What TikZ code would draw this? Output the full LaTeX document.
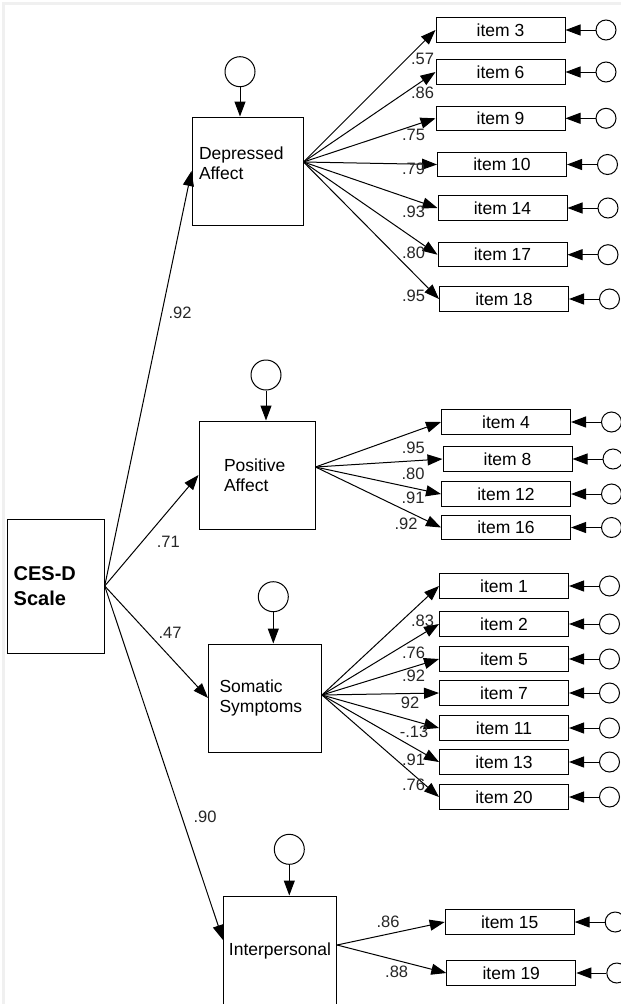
\documentclass[tikz,border=0pt]{standalone}
\usepackage{fontspec}
\setmainfont{Liberation Sans}
\usetikzlibrary{positioning,shapes,arrows.meta}

\begin{document}
\begin{tikzpicture}[x=1pt, y=-1pt, line width=1pt,
    factor/.style={draw, rectangle, minimum width=113pt, minimum height=108pt, inner sep=3pt,
        align=left, font=\fontsize{17.5}{20}\selectfont},
    item/.style={draw, rectangle, minimum width=129pt, minimum height=24.5pt, inner sep=0pt,
        font=\fontsize{17.5}{19}\selectfont},
    err/.style={draw, circle, minimum size=20pt, inner sep=0pt},
    dist/.style={draw, circle, minimum size=30pt, inner sep=0pt},
    load/.style={inner sep=0pt, text=black!85, font=\fontsize{16.5}{18}\selectfont},
    arr/.style={-{Triangle[length=15pt,width=11pt]}}]
    \useasboundingbox (0,0) rectangle (621,1004);
    \clip (0,0) rectangle (621,1004);
    % frame shadow
    \draw[gray!12, line width=3pt] (3,1004) -- (3,3) -- (621,3);

    % second order factor and first order factors
    \node[factor, minimum width=97pt, minimum height=134pt, font=\bfseries\fontsize{20}{25}\selectfont,
        text width=84pt] (ces) at (55.7,586) {CES-D\\Scale};
    \node[factor, minimum width=111pt, text width=97pt] (dep) at (247.5,171) {Depressed\\Affect\\[-4pt]\mbox{}};
    \node[factor, minimum width=116pt, text width=66pt] (pos) at (257,475) {Positive\\Affect};
    \node[factor, text width=91pt] (som) at (265,698) {Somatic\\Symptoms};
    \node[factor, minimum height=110pt, align=center, inner sep=1pt] (int) at (280,951) {Interpersonal};

    % disturbances
    \node[dist] (ddep) at (240,71.7) {};
    \node[dist] (dpos) at (266,375) {};
    \node[dist] (dsom) at (273.3,596.7) {};
    \node[dist] (dint) at (289.3,849.3) {};
    \foreach \f in {dep,pos,som,int}
        \draw[arr] (d\f) -- (d\f |- \f.north);

    \draw[arr] (ces.east) -- (dep.west);
    \draw[arr] (ces.east) -- (pos.west);
    \draw[arr] (ces.east) -- (som.west);
    \draw[arr] (ces.east) -- ([yshift=11pt]int.west);
    \node[load] (l1) at (180,313.3) {.92};
    \node[load] (l2) at (168.3,541.7) {.71};
    \node[load] (l3) at (170,633.3) {.47};
    \node[load] (l4) at (205,817.3) {.90};

    % items with their error terms
    \foreach \n/\x/\y in {3/500.5/30, 6/500.5/72, 9/500.5/118.3, 10/502/164.5, 14/502.5/208,
        17/502.5/254.7, 18/504/299,
        4/506/422, 8/507.5/459, 12/506/494, 16/506/527.5,
        1/504/586, 2/504/624, 5/504/659, 7/504/693, 11/504/728, 13/504/762, 20/504/797,
        15/509.7/922, 19/511.3/973} {
        \node[item] (i\n) at (\x,\y) {item \n};
        \node[err, right=30pt of i\n] (e\n) {};
        \draw[arr] (e\n) -- (i\n);
    }

    % loadings
    \foreach \n in {3,6,9,10,14,17,18}
        \draw[arr] ([yshift=9pt]dep.east) -- (i\n.west);
    \foreach \n in {4,8,12,16}
        \draw[arr] ([yshift=8pt]pos.east) -- (i\n.west);
    \foreach \n in {1,2,5,7,11,13,20}
        \draw[arr] ([yshift=3pt]som.east) -- (i\n.west);
    \foreach \n in {15,19}
        \draw[arr] ([yshift=6pt]int.east) -- (i\n.west);

    \foreach \t/\x/\y [count=\k] in {.57/422.5/59.2, .86/422.5/93.3, .75/413.5/135, .79/413.5/169,
        .93/413.5/211.7, .80/413.5/253.3, .95/413.5/295.5,
        .95/413.3/448.3, .80/413/474, .91/413/498.3, .92/406/524,
        .83/422.5/621, .76/413.5/653.3, .92/413.5/676, 92/410/703, -.13/414/731.7,
        .91/413.5/760, .76/413.5/785,
        .86/388/921.7, .88/396.7/971.7}
        \node[load] (w\k) at (\x,\y) {\t};
\end{tikzpicture}
\end{document}
